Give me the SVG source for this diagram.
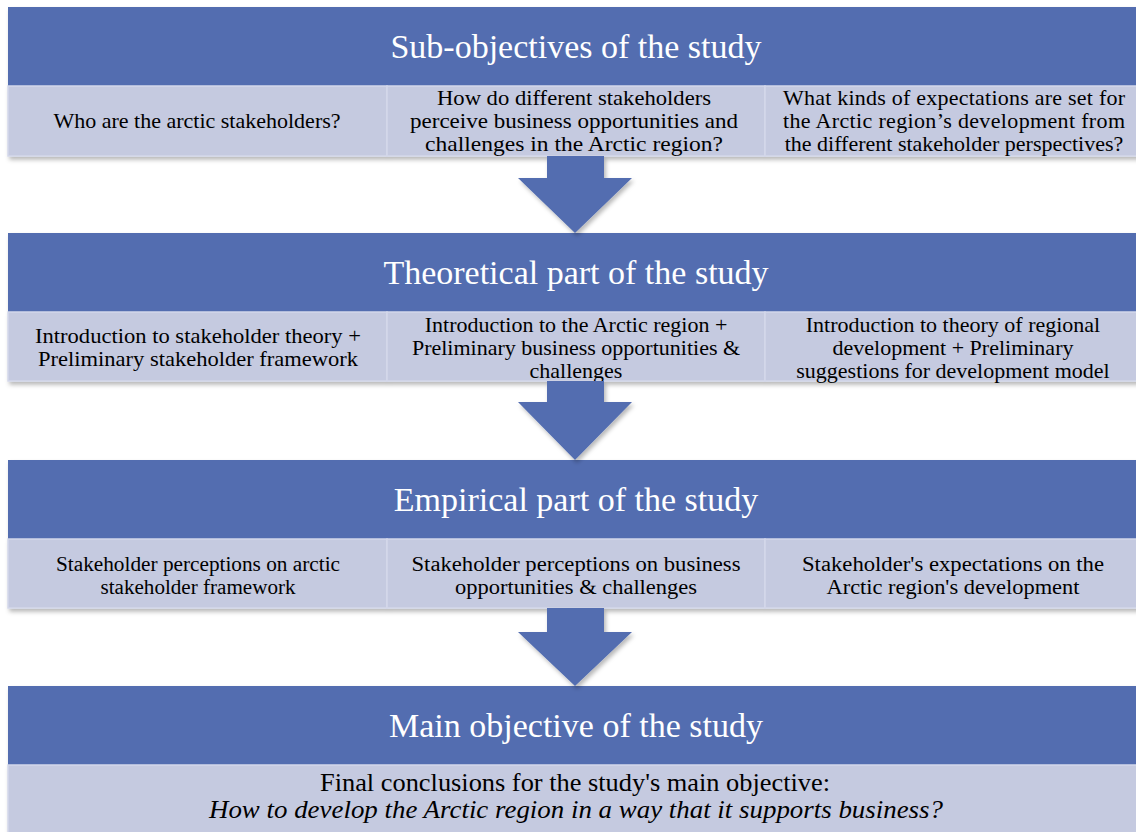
<svg xmlns="http://www.w3.org/2000/svg" width="1136" height="832" viewBox="0 0 1136 832">
<defs>
<filter id="sh" x="-5%" y="-10%" width="110%" height="130%">
<feDropShadow dx="2" dy="3" stdDeviation="2" flood-color="#000" flood-opacity="0.28"/>
</filter>
<style>
.hd{fill:#526DB0}
.cell{fill:#C5CAE0;stroke:#D3D7EA;stroke-width:1.5}
.title{font-family:"Liberation Serif","Times New Roman",serif;font-size:34px;fill:#fff;text-anchor:middle}
.t{font-family:"Liberation Serif","Times New Roman",serif;font-size:22px;fill:#000;text-anchor:middle}
.c{font-size:20px}
.big{font-size:25px}
.it{font-style:italic}
.arrow{fill:#526DB0;filter:url(#sh)}
</style>
</defs>
<rect width="1136" height="832" fill="#fff"/>

<g id="band1" filter="url(#sh)">
<rect class="hd" x="8" y="7" width="1136" height="79"/>
<rect class="cell" x="8" y="86" width="379" height="70"/>
<rect class="cell" x="387" y="86" width="378" height="70"/>
<rect class="cell" x="765" y="86" width="379" height="70"/>
</g>
<g id="band1-text">
<text class="title" x="576" y="58">Sub-objectives of the study</text>
<text class="t" x="197" y="128">Who are the arctic stakeholders?</text>
<text class="t" x="574" y="105" textLength="274" lengthAdjust="spacingAndGlyphs">How do different stakeholders</text>
<text class="t" x="574" y="128" textLength="328" lengthAdjust="spacingAndGlyphs">perceive business opportunities and</text>
<text class="t" x="574" y="151" textLength="298" lengthAdjust="spacingAndGlyphs">challenges in the Arctic region?</text>
<text class="t" x="954" y="105" textLength="342" lengthAdjust="spacing">What kinds of expectations are set for</text>
<text class="t" x="954" y="128" textLength="342" lengthAdjust="spacing">the Arctic region’s development from</text>
<text class="t" x="954" y="151">the different stakeholder perspectives?</text>
</g>

<g id="band2" filter="url(#sh)">
<rect class="hd" x="8" y="233" width="1136" height="79"/>
<rect class="cell" x="8" y="312" width="379" height="69"/>
<rect class="cell" x="387" y="312" width="378" height="69"/>
<rect class="cell" x="765" y="312" width="379" height="69"/>
</g>
<g id="band2-text">
<text class="title" x="576" y="284">Theoretical part of the study</text>
<text class="t" x="198" y="343" textLength="326" lengthAdjust="spacingAndGlyphs">Introduction to stakeholder theory +</text>
<text class="t" x="198" y="366" textLength="320" lengthAdjust="spacingAndGlyphs">Preliminary stakeholder framework</text>
<text class="t" x="576" y="332">Introduction to the Arctic region +</text>
<text class="t" x="576" y="355">Preliminary business opportunities &amp;</text>
<text class="t" x="576" y="378">challenges</text>
<text class="t" x="953" y="332">Introduction to theory of regional</text>
<text class="t" x="953" y="355">development + Preliminary</text>
<text class="t" x="953" y="378">suggestions for development model</text>
</g>

<g id="band3" filter="url(#sh)">
<rect class="hd" x="8" y="460" width="1136" height="79"/>
<rect class="cell" x="8" y="539" width="379" height="69"/>
<rect class="cell" x="387" y="539" width="378" height="69"/>
<rect class="cell" x="765" y="539" width="379" height="69"/>
</g>
<g id="band3-text">
<text class="title" x="576" y="511">Empirical part of the study</text>
<text class="t c" x="198" y="571" textLength="284" lengthAdjust="spacingAndGlyphs">Stakeholder perceptions on arctic</text>
<text class="t c" x="198" y="594" textLength="195" lengthAdjust="spacingAndGlyphs">stakeholder framework</text>
<text class="t c" x="576" y="571" textLength="329" lengthAdjust="spacingAndGlyphs">Stakeholder perceptions on business</text>
<text class="t c" x="576" y="594" textLength="242" lengthAdjust="spacingAndGlyphs">opportunities &amp; challenges</text>
<text class="t c" x="953" y="571" textLength="302" lengthAdjust="spacingAndGlyphs">Stakeholder's expectations on the</text>
<text class="t c" x="953" y="594" textLength="253" lengthAdjust="spacingAndGlyphs">Arctic region's development</text>
</g>

<g id="band4" filter="url(#sh)">
<rect class="hd" x="8" y="686" width="1136" height="79"/>
<rect class="cell" x="8" y="765" width="1136" height="80"/>
</g>
<g id="band4-text">
<text class="title" x="576" y="737">Main objective of the study</text>
<text class="t big" x="575" y="791" textLength="510" lengthAdjust="spacingAndGlyphs">Final conclusions for the study's main objective:</text>
<text class="t big it" x="576" y="818" textLength="734" lengthAdjust="spacingAndGlyphs">How to develop the Arctic region in a way that it supports business?</text>
</g>

<g id="connectors">
<polygon class="arrow" points="547,156 604,156 604,178 632,178 575,233 518,178 547,178"/>
<polygon class="arrow" points="547,381 604,381 604,402 632,402 575,460 518,402 547,402"/>
<polygon class="arrow" points="547,608 604,608 604,632 632,632 575,686 518,632 547,632"/>
</g>
</svg>
